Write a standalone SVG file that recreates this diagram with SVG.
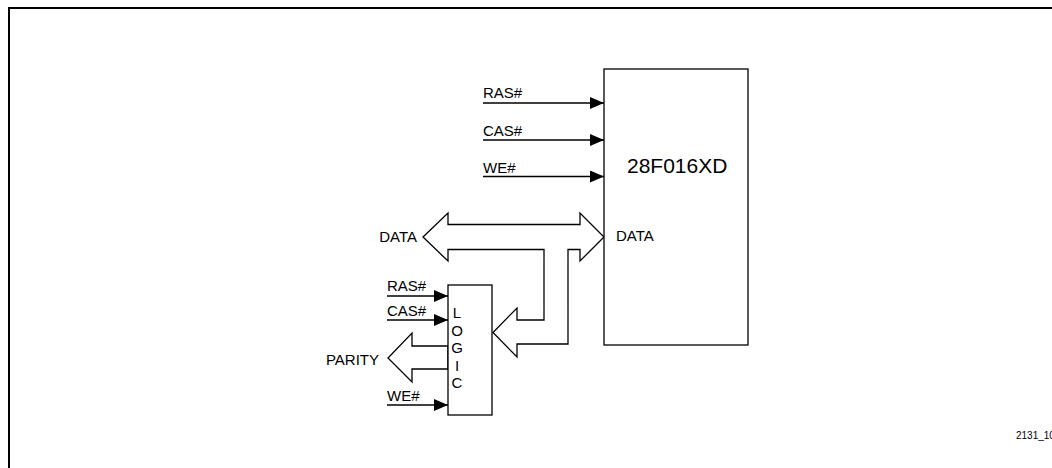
<svg xmlns="http://www.w3.org/2000/svg" width="1052" height="468" viewBox="0 0 1052 468">
  <style>
    .box { fill: #fff; stroke: #000; stroke-width: 1.3; }
    .wire { fill: none; stroke: #000; stroke-width: 1.3; }
    .bus { fill: #fff; stroke: #000; stroke-width: 1.3; stroke-linejoin: miter; }
    .lbl { font-family: "Liberation Sans", Arial, sans-serif; font-size: 15px; fill: #000; }
    .big { font-family: "Liberation Sans", Arial, sans-serif; font-size: 21px; fill: #000; }
    .tiny { font-family: "Liberation Sans", Arial, sans-serif; font-size: 10px; fill: #000; }
  </style>
  <defs>
    <marker id="arr" markerUnits="userSpaceOnUse" markerWidth="14" markerHeight="12" refX="14" refY="6" orient="auto">
      <path d="M0,0 L14,6 L0,12 Z" fill="#000"/>
    </marker>
  </defs>
  <rect x="0" y="0" width="1052" height="468" fill="#fff"/>
  <path id="frame" d="M9,470 L9,8 L1060,8" fill="none" stroke="#000" stroke-width="2"/>

  <g id="connectors">
    <line class="wire" x1="483" y1="103" x2="604" y2="103" marker-end="url(#arr)"/>
    <line class="wire" x1="483" y1="140" x2="604" y2="140" marker-end="url(#arr)"/>
    <line class="wire" x1="483" y1="176.5" x2="604" y2="176.5" marker-end="url(#arr)"/>
    <line class="wire" x1="387" y1="296" x2="448" y2="296" marker-end="url(#arr)"/>
    <line class="wire" x1="387" y1="320" x2="448" y2="320" marker-end="url(#arr)"/>
    <line class="wire" x1="387" y1="405" x2="448" y2="405" marker-end="url(#arr)"/>
    <polygon id="data-bus" class="bus" points="423,237 448,213 448,224.5 580,224.5 580,213 604,237 580,261 580,249.5 568,249.5 568,344 517,344 517,357 493,332.5 517,308 517,320 544,320 544,249.5 448,249.5 448,261"/>
    <polygon id="parity-bus" class="bus" points="448,346 412,346 412,333 388,358 412,382 412,369 448,369"/>
  </g>

  <g id="chip">
    <rect class="box" x="604" y="69" width="144" height="276"/>
    <text class="big" x="627" y="173">28F016XD</text>
    <text class="lbl" x="616" y="241">DATA</text>
  </g>

  <g id="logic">
    <rect class="box" x="448" y="285" width="44" height="130"/>
    <text class="lbl" x="457" y="318" text-anchor="middle">L</text>
    <text class="lbl" x="457" y="336" text-anchor="middle">O</text>
    <text class="lbl" x="457" y="353" text-anchor="middle">G</text>
    <text class="lbl" x="457" y="371" text-anchor="middle">I</text>
    <text class="lbl" x="457" y="388" text-anchor="middle">C</text>
  </g>

  <g id="labels">
    <text class="lbl" x="483" y="98">RAS#</text>
    <text class="lbl" x="483" y="136">CAS#</text>
    <text class="lbl" x="483" y="173">WE#</text>
    <text class="lbl" x="387" y="291">RAS#</text>
    <text class="lbl" x="387" y="316">CAS#</text>
    <text class="lbl" x="387" y="401">WE#</text>
    <text class="lbl" x="417" y="242" text-anchor="end">DATA</text>
    <text class="lbl" x="379" y="365" text-anchor="end">PARITY</text>
    <text class="tiny" x="1016" y="439">2131_10</text>
  </g>
</svg>
